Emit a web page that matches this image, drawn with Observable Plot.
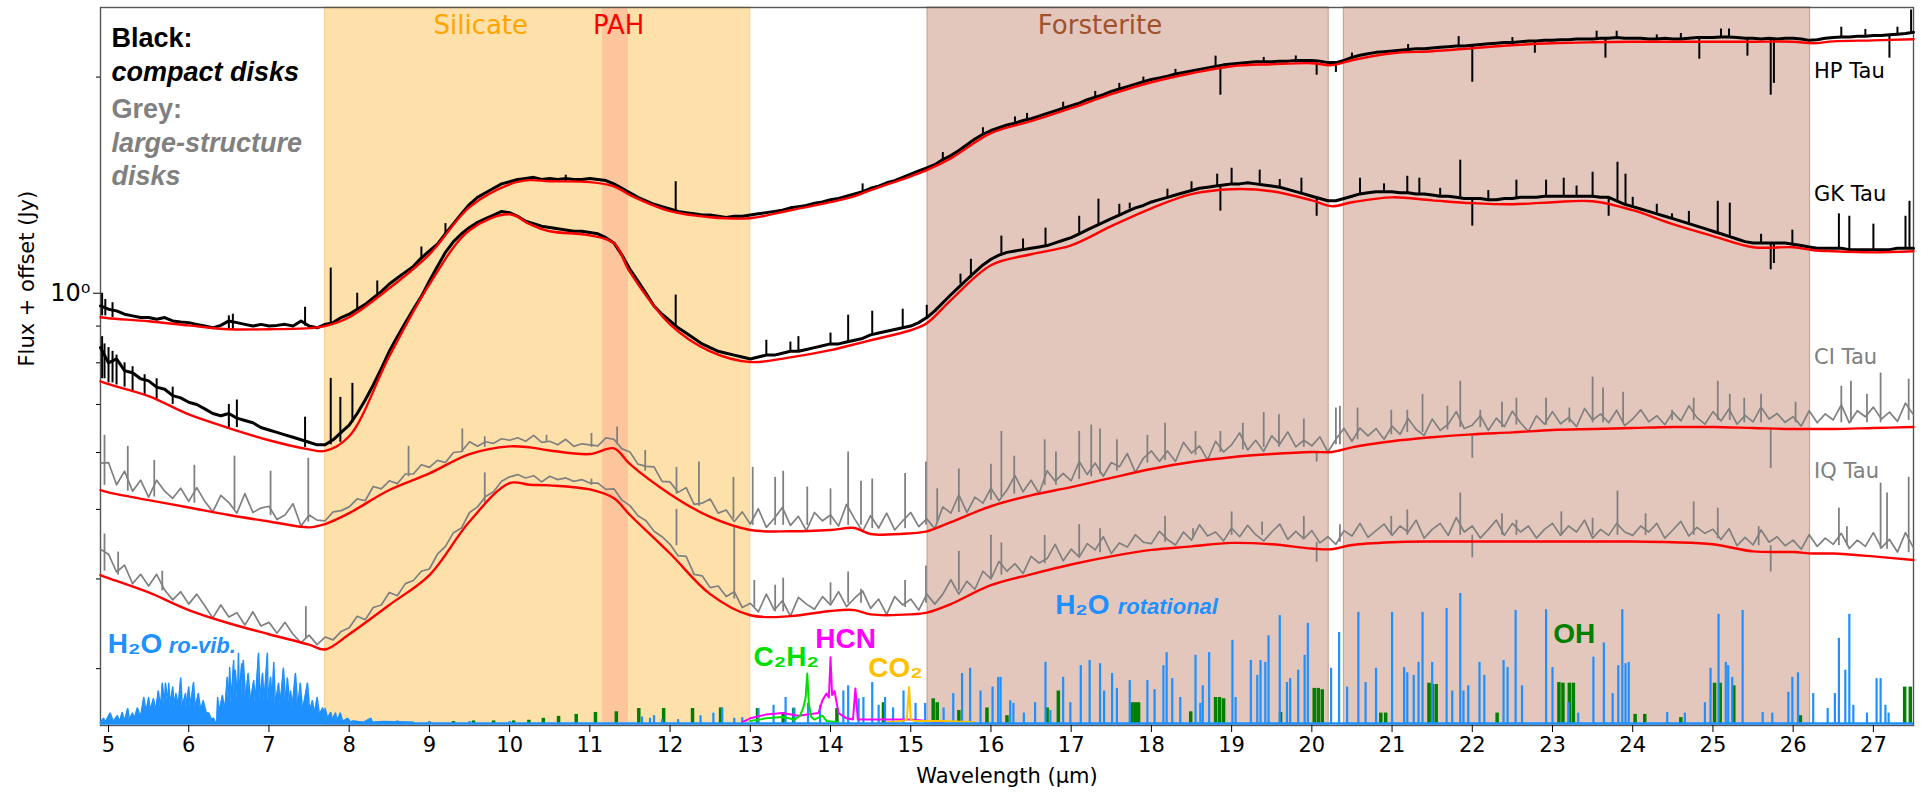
<!DOCTYPE html>
<html><head><meta charset="utf-8">
<script src="https://cdn.jsdelivr.net/npm/d3@7"></script>
<script src="https://cdn.jsdelivr.net/npm/@observablehq/plot@0.6"></script>
<style>
body{margin:0;background:#fff;}
#wrap{position:relative;width:1921px;height:795px;}
#wrap svg{position:absolute;left:0;top:0;}
</style></head><body><div id="wrap"></div>
<script>
// ---------- DATA ----------
const xTicks = [5,6,7,8,9,10,11,12,13,14,15,16,17,18,19,20,21,22,23,24,25,26,27];
const yMinorTicks = [0.3,0.4,0.5,0.6,0.7,0.8,0.9,2];
const yMajorTicks = [1];
const specStart = 4.9, specStep = 0.1;

const starNames = ["HP Tau","GK Tau","CI Tau","IQ Tau"];
const starLabelFlux = [2.036, 1.372, 0.814, 0.565];

const bandNames = ["Silicate","PAH","Forsterite","Forsterite"];
const bandFrom = [7.7, 11.16, 15.21, 20.40];
const bandTo = [13.0, 11.48, 20.21, 26.21];

// observed spectra, 4.9 .. 27.5 um every 0.1 um (Jy + offset)
const hpTau = [0.96,
 0.95,0.945,0.935,0.93,0.925,0.925,0.92,0.925,0.915,0.912,
 0.91,0.905,0.90,0.895,0.902,0.915,0.91,0.905,0.90,0.905,
 0.90,0.902,0.905,0.90,0.915,0.90,0.895,0.905,0.91,0.925,
 0.935,0.95,0.965,0.985,1.005,1.03,1.05,1.07,1.09,1.12,
 1.145,1.17,1.21,1.25,1.29,1.33,1.36,1.38,1.40,1.42,
 1.43,1.44,1.445,1.45,1.44,1.445,1.44,1.445,1.44,1.44,
 1.445,1.44,1.435,1.42,1.40,1.38,1.36,1.345,1.33,1.32,
 1.31,1.30,1.295,1.29,1.285,1.285,1.28,1.275,1.28,1.28,
 1.285,1.29,1.295,1.30,1.305,1.315,1.32,1.325,1.335,1.34,
 1.35,1.355,1.365,1.375,1.385,1.40,1.41,1.425,1.435,1.45,
 1.465,1.48,1.495,1.51,1.535,1.555,1.58,1.61,1.64,1.665,
 1.685,1.70,1.715,1.725,1.74,1.75,1.765,1.78,1.795,1.81,
 1.825,1.84,1.86,1.875,1.89,1.91,1.925,1.94,1.955,1.97,
 1.985,1.995,2.005,2.02,2.03,2.04,2.05,2.06,2.07,2.08,
 2.085,2.09,2.095,2.10,2.10,2.10,2.105,2.105,2.11,2.11,
 2.11,2.105,2.095,2.095,2.11,2.13,2.145,2.155,2.165,2.17,
 2.175,2.18,2.185,2.19,2.19,2.195,2.20,2.205,2.21,2.21,
 2.215,2.22,2.225,2.23,2.235,2.235,2.24,2.245,2.245,2.25,
 2.25,2.255,2.255,2.26,2.26,2.26,2.265,2.265,2.27,2.265,
 2.265,2.265,2.26,2.26,2.265,2.26,2.26,2.265,2.27,2.27,
 2.27,2.275,2.275,2.27,2.265,2.265,2.26,2.265,2.26,2.265,
 2.265,2.26,2.25,2.255,2.265,2.27,2.275,2.275,2.28,2.28,
 2.285,2.285,2.29,2.295,2.30,2.31];

const gkTau = [0.84,
 0.80,0.81,0.78,0.775,0.76,0.755,0.74,0.735,0.72,0.715,
 0.705,0.70,0.69,0.68,0.675,0.68,0.67,0.665,0.66,0.65,
 0.645,0.64,0.635,0.63,0.625,0.62,0.615,0.615,0.625,0.64,
 0.655,0.68,0.71,0.745,0.785,0.83,0.87,0.91,0.95,0.99,
 1.04,1.09,1.14,1.18,1.21,1.235,1.255,1.27,1.285,1.30,
 1.295,1.28,1.26,1.25,1.24,1.235,1.23,1.225,1.22,1.22,
 1.215,1.21,1.195,1.175,1.13,1.08,1.04,1.0,0.96,0.935,
 0.915,0.895,0.88,0.865,0.85,0.84,0.83,0.825,0.82,0.815,
 0.81,0.815,0.82,0.82,0.825,0.83,0.83,0.835,0.84,0.845,
 0.85,0.85,0.855,0.86,0.865,0.875,0.88,0.885,0.89,0.895,
 0.90,0.91,0.925,0.945,0.97,0.995,1.02,1.045,1.07,1.095,
 1.115,1.13,1.14,1.145,1.15,1.155,1.16,1.165,1.175,1.185,
 1.195,1.21,1.225,1.24,1.255,1.27,1.285,1.30,1.315,1.325,
 1.34,1.35,1.36,1.37,1.38,1.39,1.40,1.405,1.41,1.415,
 1.42,1.42,1.425,1.42,1.415,1.41,1.405,1.395,1.385,1.375,
 1.365,1.355,1.345,1.345,1.355,1.365,1.375,1.38,1.385,1.385,
 1.385,1.38,1.38,1.375,1.375,1.37,1.365,1.365,1.36,1.355,
 1.355,1.355,1.35,1.35,1.355,1.355,1.36,1.36,1.36,1.365,
 1.365,1.365,1.365,1.365,1.365,1.365,1.36,1.36,1.345,1.33,
 1.32,1.31,1.30,1.29,1.28,1.27,1.26,1.25,1.24,1.23,
 1.22,1.21,1.20,1.19,1.18,1.175,1.175,1.175,1.175,1.175,
 1.17,1.165,1.16,1.155,1.155,1.155,1.155,1.15,1.15,1.15,
 1.15,1.15,1.15,1.155,1.155,1.155];

const ciTau = [0.58,
 0.581,0.541,0.565,0.530,0.549,0.520,0.549,0.530,0.518,0.535,
 0.513,0.536,0.513,0.496,0.523,0.511,0.494,0.526,0.495,0.502,
 0.505,0.484,0.491,0.509,0.474,0.491,0.483,0.482,0.496,0.498,
 0.504,0.517,0.514,0.538,0.534,0.548,0.543,0.560,0.560,0.577,
 0.572,0.585,0.581,0.600,0.602,0.621,0.612,0.621,0.618,0.627,
 0.624,0.629,0.622,0.634,0.620,0.622,0.615,0.626,0.612,0.617,
 0.615,0.613,0.629,0.626,0.607,0.601,0.578,0.574,0.573,0.547,
 0.546,0.528,0.536,0.508,0.510,0.517,0.494,0.499,0.481,0.496,
 0.477,0.501,0.472,0.486,0.503,0.475,0.489,0.467,0.495,0.482,
 0.491,0.474,0.508,0.485,0.466,0.490,0.471,0.494,0.468,0.482,
 0.495,0.473,0.485,0.470,0.504,0.494,0.524,0.495,0.520,0.510,
 0.535,0.514,0.532,0.557,0.529,0.549,0.526,0.566,0.547,0.561,
 0.548,0.583,0.559,0.580,0.556,0.581,0.573,0.598,0.563,0.589,
 0.603,0.583,0.603,0.583,0.620,0.599,0.613,0.586,0.622,0.601,
 0.615,0.639,0.605,0.624,0.602,0.633,0.616,0.641,0.611,0.624,
 0.613,0.631,0.601,0.626,0.648,0.622,0.649,0.633,0.648,0.626,
 0.653,0.636,0.669,0.646,0.634,0.668,0.644,0.657,0.684,0.648,
 0.655,0.675,0.644,0.670,0.652,0.685,0.660,0.642,0.675,0.657,
 0.684,0.658,0.671,0.652,0.691,0.666,0.679,0.660,0.687,0.654,
 0.668,0.688,0.662,0.675,0.656,0.683,0.664,0.697,0.671,0.657,
 0.684,0.664,0.690,0.657,0.676,0.662,0.694,0.668,0.680,0.661,
 0.673,0.653,0.686,0.660,0.679,0.666,0.699,0.660,0.686,0.673,
 0.694,0.668,0.683,0.663,0.703,0.677];

const iqTau = [0.44,
 0.433,0.409,0.418,0.394,0.406,0.391,0.406,0.386,0.374,0.384,
 0.369,0.381,0.367,0.353,0.368,0.354,0.359,0.345,0.360,0.344,
 0.348,0.336,0.348,0.335,0.326,0.334,0.324,0.332,0.329,0.338,
 0.342,0.355,0.351,0.365,0.368,0.383,0.379,0.394,0.398,0.410,
 0.413,0.433,0.444,0.464,0.471,0.495,0.504,0.521,0.529,0.547,
 0.555,0.559,0.553,0.557,0.546,0.556,0.550,0.553,0.547,0.550,
 0.544,0.544,0.533,0.534,0.515,0.506,0.490,0.482,0.466,0.458,
 0.447,0.431,0.430,0.406,0.404,0.389,0.391,0.378,0.384,0.365,
 0.370,0.360,0.381,0.362,0.373,0.355,0.377,0.369,0.363,0.378,
 0.368,0.384,0.366,0.376,0.385,0.364,0.375,0.357,0.378,0.368,
 0.375,0.362,0.381,0.369,0.381,0.399,0.381,0.397,0.387,0.410,
 0.400,0.423,0.410,0.420,0.407,0.430,0.421,0.427,0.447,0.424,
 0.440,0.429,0.448,0.439,0.458,0.434,0.449,0.443,0.461,0.450,
 0.448,0.466,0.454,0.446,0.465,0.453,0.476,0.459,0.465,0.452,
 0.471,0.458,0.475,0.461,0.452,0.465,0.477,0.454,0.466,0.455,
 0.467,0.449,0.458,0.447,0.467,0.459,0.478,0.457,0.467,0.477,
 0.460,0.474,0.465,0.483,0.456,0.469,0.478,0.460,0.487,0.465,
 0.474,0.456,0.469,0.483,0.460,0.478,0.465,0.474,0.456,0.469,
 0.478,0.460,0.474,0.465,0.483,0.456,0.469,0.460,0.478,0.465,
 0.460,0.474,0.465,0.478,0.456,0.468,0.481,0.459,0.472,0.463,
 0.469,0.454,0.470,0.445,0.457,0.446,0.468,0.450,0.458,0.445,
 0.453,0.440,0.461,0.444,0.456,0.447,0.463,0.441,0.453,0.444,
 0.464,0.442,0.454,0.436,0.464,0.442];

// continuum fits (red)
const contWl = [4.9,5.0,5.5,6.0,6.5,7.0,7.5,7.7,8.0,8.5,9.0,9.5,10.0,10.25,10.5,11.0,11.3,11.5,12.0,12.5,
 13.0,13.5,14.0,14.3,14.5,15.0,15.2,15.5,16.0,16.5,17.0,17.5,18.0,18.5,19.0,19.5,20.0,20.25,20.5,21.0,
 21.5,22.0,22.5,23.0,23.5,24.0,24.5,25.0,25.5,26.0,26.25,26.5,27.0,27.5];
const hpCont = [0.926,0.923,0.914,0.902,0.891,0.891,0.894,0.900,0.926,1.016,1.133,1.318,1.418,1.437,1.432,1.428,1.409,1.37,1.301,1.276,
 1.272,1.305,1.339,1.365,1.392,1.455,1.484,1.541,1.671,1.736,1.810,1.893,1.967,2.025,2.071,2.084,2.091,2.078,2.111,2.159,
 2.173,2.194,2.215,2.229,2.236,2.240,2.240,2.240,2.240,2.240,2.229,2.243,2.250,2.258];
const gkCont = [0.754,0.747,0.719,0.678,0.649,0.624,0.606,0.603,0.632,0.817,1.029,1.224,1.288,1.248,1.220,1.204,1.174,1.070,0.905,0.830,
 0.802,0.814,0.833,0.849,0.860,0.888,0.908,0.978,1.094,1.133,1.166,1.240,1.313,1.374,1.396,1.387,1.347,1.322,1.339,1.360,
 1.347,1.335,1.330,1.339,1.343,1.305,1.248,1.201,1.159,1.159,1.148,1.144,1.140,1.144];
const ciCont = [0.532,0.528,0.515,0.503,0.491,0.481,0.472,0.477,0.494,0.532,0.561,0.597,0.612,0.610,0.604,0.597,0.608,0.578,0.525,0.488,
 0.468,0.466,0.468,0.471,0.462,0.463,0.466,0.480,0.505,0.523,0.537,0.553,0.569,0.582,0.591,0.597,0.601,0.601,0.610,0.622,
 0.630,0.636,0.640,0.645,0.647,0.649,0.651,0.651,0.649,0.647,0.647,0.647,0.649,0.651];
const iqCont = [0.405,0.401,0.383,0.362,0.347,0.335,0.324,0.319,0.335,0.368,0.405,0.481,0.544,0.541,0.540,0.533,0.518,0.491,0.434,0.381,
 0.356,0.355,0.361,0.362,0.357,0.357,0.359,0.369,0.392,0.406,0.419,0.430,0.439,0.444,0.449,0.447,0.441,0.440,0.446,0.450,
 0.451,0.451,0.451,0.451,0.451,0.451,0.450,0.447,0.437,0.436,0.434,0.434,0.430,0.425];

// narrow features [wavelength, low, high]
const hpSpikes = [[4.92,0.93,1.0],[4.96,0.93,0.98],[5.05,0.925,0.97],[6.5,0.89,0.93],[6.55,0.89,0.935],[7.45,0.90,0.956],[7.77,0.905,1.084],
 [8.1,0.95,1.0],[8.35,0.985,1.04],[8.9,1.12,1.16],[9.2,1.21,1.25],[10.7,1.43,1.46],[12.07,1.30,1.43],[14.4,1.385,1.42],[15.4,1.535,1.57],
 [15.9,1.665,1.70],[16.3,1.725,1.76],[16.45,1.74,1.78],[16.9,1.81,1.845],[17.3,1.875,1.91],[17.6,1.925,1.96],[17.9,1.97,2.0],[18.3,2.02,2.05],
 [18.8,2.07,2.139],[18.86,1.887,2.07],[19.4,2.10,2.13],[19.8,2.11,2.14],[20.06,2.012,2.11],[20.3,2.03,2.095],[20.5,2.13,2.16],[21.2,2.185,2.22],
 [21.83,2.21,2.277],[22.0,1.967,2.215],[22.5,2.235,2.27],[22.78,2.159,2.245],[23.55,2.26,2.317],[23.66,2.125,2.265],[23.8,2.27,2.317],
 [24.3,2.26,2.29],[24.6,2.26,2.30],[24.83,2.118,2.27],[25.1,2.275,2.333],[25.2,2.275,2.333],[25.43,2.139,2.27],[25.72,1.887,2.26],
 [25.76,1.96,2.26],[26.6,2.275,2.347],[26.9,2.28,2.33],[27.2,2.125,2.29],[27.3,2.295,2.347],[27.47,2.30,2.48]];
const gkSpikes = [[4.92,0.76,0.87],[4.95,0.76,0.85],[5.0,0.75,0.84],[5.05,0.75,0.83],[5.1,0.745,0.82],[5.2,0.74,0.80],[5.3,0.73,0.79],
 [5.45,0.72,0.77],[5.6,0.71,0.76],[5.8,0.70,0.74],[6.5,0.65,0.70],[6.6,0.65,0.71],[7.45,0.61,0.672],[7.77,0.615,0.761],[7.89,0.62,0.716],
 [8.04,0.66,0.749],[12.07,0.90,0.994],[13.2,0.82,0.86],[13.5,0.83,0.855],[13.6,0.83,0.87],[14.0,0.85,0.88],[14.22,0.855,0.932],
 [14.52,0.875,0.944],[14.9,0.895,0.95],[15.2,0.925,0.962],[15.62,1.03,1.063],[15.75,1.05,1.115],[16.13,1.13,1.201],[16.4,1.15,1.19],
 [16.68,1.165,1.232],[17.1,1.21,1.28],[17.34,1.245,1.352],[17.6,1.285,1.33],[17.73,1.31,1.335],[18.2,1.36,1.396],[18.5,1.39,1.43],
 [18.82,1.41,1.465],[19.0,1.42,1.493],[19.35,1.42,1.484],[19.6,1.405,1.44],[19.87,1.375,1.446],[20.6,1.375,1.446],[20.9,1.385,1.42],
 [21.19,1.38,1.455],[21.34,1.375,1.446],[21.6,1.365,1.40],[21.85,1.36,1.532],[22.2,1.35,1.39],[22.55,1.355,1.437],[22.92,1.365,1.437],
 [23.14,1.365,1.446],[23.3,1.365,1.41],[23.5,1.365,1.474],[23.81,1.345,1.522],[23.91,1.33,1.465],[24.0,1.32,1.36],[24.3,1.29,1.33],
 [24.49,1.27,1.29],[24.7,1.25,1.30],[25.06,1.215,1.343],[25.21,1.20,1.335],[25.6,1.175,1.208],[25.99,1.17,1.224],
 [26.57,1.155,1.29],[26.7,1.15,1.28],[27.0,1.15,1.248],[27.4,1.155,1.28],[27.45,1.155,1.343],
 [18.86,1.301,1.41],[20.06,1.28,1.36],[22.0,1.24,1.355],[23.7,1.28,1.36],[25.72,1.078,1.175],[25.76,1.10,1.175]];
const ciSpikes = [[4.95,0.54,0.634],[5.24,0.53,0.612],[5.57,0.52,0.585],[6.07,0.51,0.576],[6.57,0.50,0.593],[7.02,0.49,0.565],[7.49,0.48,0.589],
 [8.74,0.555,0.612],[9.41,0.60,0.647],[9.69,0.61,0.631],[10.46,0.62,0.634],[11.02,0.61,0.638],[11.34,0.615,0.651],[11.69,0.565,0.604],
 [12.08,0.525,0.572],[12.36,0.505,0.582],[12.79,0.485,0.554],[13.03,0.475,0.572],[13.31,0.475,0.554],[13.41,0.475,0.565],[13.71,0.475,0.537],
 [14.0,0.475,0.534],[14.22,0.475,0.601],[14.38,0.475,0.547],[14.52,0.47,0.551],[14.93,0.47,0.561],[15.19,0.475,0.582],[15.33,0.48,0.534],
 [15.6,0.495,0.569],[16.0,0.515,0.578],[16.13,0.52,0.642],[16.29,0.525,0.593],[16.67,0.54,0.625],[16.81,0.54,0.601],[17.1,0.55,0.642],
 [17.25,0.555,0.655],[17.36,0.56,0.647],[17.57,0.565,0.625],[17.95,0.58,0.634],[18.17,0.585,0.659],[18.55,0.595,0.642],[18.86,0.60,0.642],
 [19.14,0.605,0.659],[19.4,0.61,0.682],[19.59,0.61,0.677],[19.9,0.61,0.668],[20.3,0.615,0.692],[20.35,0.615,0.696],[20.57,0.625,0.692],
 [20.99,0.635,0.687],[21.19,0.64,0.687],[21.38,0.64,0.723],[21.69,0.645,0.696],[21.85,0.65,0.754],[22.1,0.65,0.687],[22.37,0.65,0.705],
 [22.55,0.655,0.714],[22.92,0.655,0.714],[23.21,0.66,0.692],[23.5,0.66,0.764],[23.63,0.66,0.738],[23.88,0.66,0.728],[24.49,0.665,0.687],
 [24.76,0.665,0.714],[25.06,0.665,0.754],[25.21,0.665,0.723],[25.39,0.66,0.714],[25.6,0.66,0.723],[26.03,0.66,0.705],[26.6,0.66,0.742],
 [26.72,0.66,0.754],[26.92,0.66,0.723],[27.09,0.66,0.774],[27.44,0.665,0.759],
 [25.72,0.57,0.649],[22.0,0.589,0.636],[20.06,0.582,0.60]];
const iqSpikes = [[4.95,0.41,0.462],[5.12,0.405,0.436],[5.67,0.385,0.41],[7.46,0.33,0.366],[9.69,0.51,0.562],[11.02,0.54,0.551],
 [12.08,0.445,0.50],[12.8,0.375,0.472],[13.05,0.365,0.398],[13.31,0.36,0.392],[13.41,0.36,0.401],[14.0,0.37,0.395],[14.22,0.37,0.409],
 [14.38,0.37,0.387],[14.93,0.365,0.398],[15.19,0.37,0.417],[15.6,0.385,0.437],[16.0,0.40,0.46],[16.13,0.405,0.449],[16.67,0.42,0.46],
 [17.1,0.43,0.476],[17.36,0.435,0.47],[18.17,0.45,0.489],[18.52,0.455,0.47],[19.0,0.46,0.496],[19.38,0.46,0.48],[19.9,0.455,0.489],
 [20.35,0.45,0.476],[20.99,0.46,0.489],[21.19,0.46,0.499],[21.85,0.46,0.527],[22.37,0.46,0.493],[22.55,0.46,0.483],[23.11,0.46,0.496],
 [23.5,0.46,0.486],[23.81,0.46,0.53],[24.16,0.46,0.493],[24.76,0.46,0.512],[25.06,0.455,0.502],[25.57,0.445,0.473],[26.57,0.445,0.502],
 [26.67,0.445,0.473],[27.09,0.44,0.544],[27.17,0.44,0.527],[27.44,0.435,0.554],
 [25.72,0.409,0.445],[22.0,0.428,0.46],[20.06,0.422,0.45]];

// molecular model spectra (relative line intensity, 0..1)
const roVib = [[4.90,0.01],[4.94,0.04],[4.96,0.01],[5.02,0.08],[5.06,0.015],[5.11,0.06],[5.14,0.015],[5.17,0.085],[5.20,0.02],[5.24,0.115],
 [5.26,0.03],[5.30,0.08],[5.32,0.035],[5.36,0.12],[5.40,0.05],[5.44,0.2],[5.47,0.09],[5.50,0.2],[5.52,0.1],[5.56,0.19],[5.59,0.1],
 [5.62,0.25],[5.65,0.12],[5.67,0.31],[5.70,0.14],[5.71,0.31],[5.74,0.15],[5.75,0.31],[5.77,0.14],[5.80,0.28],[5.82,0.13],[5.84,0.23],
 [5.87,0.14],[5.90,0.35],[5.92,0.13],[5.96,0.23],[5.97,0.12],[6.00,0.28],[6.02,0.13],[6.06,0.315],[6.08,0.12],[6.12,0.23],[6.15,0.1],
 [6.18,0.175],[6.22,0.08],[6.25,0.08],[6.28,0.035],[6.31,0.04],[6.33,0.01],[6.35,0.01],[6.36,0.2],[6.38,0.09],[6.42,0.215],[6.45,0.1],
 [6.48,0.355],[6.50,0.15],[6.51,0.43],[6.53,0.16],[6.56,0.485],[6.57,0.2],[6.58,0.41],[6.61,0.17],[6.62,0.54],[6.63,0.2],[6.66,0.46],
 [6.67,0.19],[6.68,0.485],[6.71,0.18],[6.74,0.385],[6.77,0.17],[6.81,0.33],[6.83,0.16],[6.87,0.54],[6.89,0.18],[6.92,0.385],[6.94,0.17],
 [6.98,0.54],[6.99,0.17],[7.02,0.355],[7.04,0.17],[7.06,0.47],[7.08,0.15],[7.12,0.31],[7.14,0.14],[7.18,0.425],[7.21,0.15],[7.23,0.35],
 [7.26,0.13],[7.27,0.25],[7.29,0.12],[7.33,0.385],[7.36,0.12],[7.39,0.31],[7.42,0.1],[7.48,0.31],[7.51,0.09],[7.54,0.175],[7.57,0.08],
 [7.60,0.2],[7.63,0.07],[7.67,0.12],[7.69,0.06],[7.70,0.115],[7.73,0.04],[7.77,0.085],[7.79,0.03],[7.83,0.08],[7.85,0.02],[7.89,0.08],
 [7.92,0.015],[7.98,0.04],[8.02,0.01],[8.05,0.02],[8.18,0.01],[8.27,0.04],[8.29,0.01],[8.43,0.015],[8.80,0.01]];
const h2oRot = [[8.6,0.02],[9.0,0.015],[9.5,0.015],[10.0,0.015],[11.65,0.05],[11.75,0.04],[11.8,0.06],[11.9,0.03],[12.1,0.03],
 [12.38,0.06],[12.54,0.08],[12.65,0.12],[12.8,0.04],[12.9,0.045],[13.1,0.115],[13.29,0.14],[13.44,0.2],[13.54,0.12],[13.72,0.155],
 [13.87,0.14],[14.16,0.25],[14.22,0.29],[14.35,0.19],[14.41,0.2],[14.52,0.315],[14.6,0.14],[14.68,0.2],[14.78,0.12],[14.91,0.25],
 [15.06,0.155],[15.18,0.155],[15.41,0.12],[15.53,0.23],[15.64,0.385],[15.74,0.425],[15.87,0.25],[16.02,0.28],[16.09,0.355],[16.12,0.355],
 [16.24,0.175],[16.28,0.155],[16.41,0.08],[16.55,0.16],[16.68,0.47],[16.74,0.10],[16.9,0.355],[16.99,0.16],[17.12,0.445],[17.23,0.485],
 [17.36,0.46],[17.41,0.25],[17.51,0.385],[17.57,0.27],[17.73,0.33],[17.95,0.33],[18.04,0.26],[18.15,0.445],[18.19,0.545],[18.26,0.345],
 [18.36,0.2],[18.55,0.525],[18.61,0.155],[18.64,0.29],[18.72,0.545],[19.01,0.64],[19.05,0.2],[19.24,0.485],[19.32,0.37],[19.36,0.485],
 [19.42,0.47],[19.46,0.675],[19.6,0.83],[19.69,0.315],[19.73,0.345],[19.83,0.41],[19.91,0.525],[19.95,0.77],[20.24,0.425],[20.34,0.70],
 [20.44,0.28],[20.58,0.855],[20.67,0.315],[20.8,0.425],[21.0,0.855],[21.15,0.43],[21.19,0.39],[21.27,0.37],[21.33,0.47],[21.38,0.855],
 [21.5,0.47],[21.68,0.885],[21.75,0.25],[21.85,1.0],[21.89,0.25],[21.95,0.29],[22.09,0.47],[22.15,0.37],[22.39,0.485],[22.44,0.43],
 [22.54,0.87],[22.62,0.29],[22.92,0.875],[23.0,0.43],[23.2,0.16],[23.32,0.08],[23.51,0.51],[23.64,0.62],[23.75,0.23],[23.82,0.445],
 [23.87,0.875],[23.91,0.46],[23.95,0.47],[24.43,0.085],[24.65,0.08],[24.9,0.16],[24.97,0.425],[25.07,0.84],[25.16,0.47],[25.19,0.445],
 [25.24,0.355],[25.37,0.87],[25.62,0.085],[25.74,0.08],[25.94,0.24],[25.99,0.355],[26.06,0.39],[26.25,0.23],[26.43,0.115],[26.52,0.23],
 [26.57,0.655],[26.65,0.41],[26.7,0.84],[26.75,0.14],[26.92,0.08],[27.04,0.345],[27.09,0.345],[27.15,0.14],[27.19,0.08]];
const ohLines = [[9.0,0.01],[9.3,0.015],[9.55,0.02],[9.8,0.02],[10.05,0.02],[10.24,0.025],[10.42,0.04],[10.61,0.055],[10.83,0.07],
 [11.07,0.085],[11.33,0.09],[11.61,0.115],[11.92,0.115],[12.28,0.115],[12.63,0.12],[13.09,0.115],[13.41,0.085],[13.54,0.115],
 [14.08,0.115],[14.66,0.16],[15.28,0.19],[15.33,0.16],[15.6,0.1],[15.95,0.12],[16.2,0.06],[16.7,0.12],[16.84,0.25],[17.76,0.16],
 [17.8,0.16],[17.84,0.16],[18.49,0.09],[18.8,0.2],[18.85,0.2],[18.9,0.19],[19.61,0.085],[20.03,0.27],[20.08,0.27],[20.13,0.26],
 [20.86,0.08],[20.92,0.08],[21.46,0.31],[21.5,0.3],[21.55,0.3],[22.31,0.08],[23.08,0.315],[23.13,0.31],[23.21,0.31],[23.26,0.31],
 [24.03,0.07],[24.15,0.07],[24.6,0.045],[25.02,0.31],[25.09,0.31],[25.26,0.29],[26.09,0.06],[27.39,0.28],[27.46,0.28]];
const c2h2 = [[13.0,0.02],[13.2,0.04],[13.4,0.05],[13.55,0.03],[13.62,0.06],[13.66,0.12],[13.69,0.2],[13.71,0.385],[13.73,0.15],
 [13.76,0.05],[13.8,0.03],[13.9,0.06],[13.95,0.02],[14.1,0.01]];
const hcn = [[12.9,0.01],[13.0,0.04],[13.2,0.07],[13.4,0.08],[13.6,0.06],[13.85,0.08],[13.9,0.18],[13.95,0.23],[13.98,0.2],
 [14.0,0.51],[14.02,0.22],[14.05,0.25],[14.1,0.08],[14.2,0.04],[14.28,0.03],[14.31,0.27],[14.34,0.03],[14.6,0.03],[15.0,0.03],[15.2,0.02],[15.4,0.01]];
const co2 = [[14.7,0.01],[14.9,0.02],[14.95,0.03],[14.98,0.28],[15.0,0.03],[15.05,0.02],[15.4,0.02],[15.8,0.01]];

// ---------- BUILD ----------
const W = 1921, H = 795, ML = 100, MR = 8, MT = 7, MB = 70;
const xDomain = [4.9, 27.5], yDomain = [0.25, 2.5];
const specWl = hpTau.map((_, i) => Math.round((specStart + specStep * i) * 100) / 100);
const rows = vals => vals.map((f, i) => ({wl: specWl[i], f}));
const cont = vals => vals.map((f, i) => ({wl: contWl[i], f}));
const bands = bandNames.map((name, i) => ({name, from: bandFrom[i], to: bandTo[i]}));
const spikeOpts = (stroke, w) => ({x: d => d[0], y1: d => d[1], y2: d => d[2], stroke, strokeWidth: w});
const BLUE = "#1e90ff";
const SANS = "'Liberation Sans', Arial, sans-serif";

const main = Plot.plot({
  width: W, height: H, marginLeft: ML, marginRight: MR, marginTop: MT, marginBottom: MB,
  x: {domain: xDomain, label: null},
  y: {type: "log", domain: yDomain, label: null},
  style: {fontFamily: "'DejaVu Sans', sans-serif", fontSize: "21px", background: "transparent", color: "#000"},
  marks: [
    Plot.rect(bands, {filter: d => d.name === "Silicate", x1: "from", x2: "to", y1: yDomain[0], y2: yDomain[1], fill: "#fee0aa", stroke: "#f7cf90", strokeWidth: 1}),
    Plot.rect(bands, {filter: d => d.name === "PAH", x1: "from", x2: "to", y1: yDomain[0], y2: yDomain[1], fill: "#fdc59c"}),
    Plot.rect(bands, {filter: d => d.name === "Forsterite", x1: "from", x2: "to", y1: yDomain[0], y2: yDomain[1], fill: "#e3c7bc", stroke: "#c9a595", strokeWidth: 1.2}),
    Plot.frame({stroke: "#555", strokeWidth: 1.4}),
    Plot.axisX({ticks: xTicks, tickSize: 7, tickPadding: 5, label: null, fontSize: 21}),
    Plot.axisY({ticks: yMajorTicks, tickSize: 7, tickPadding: 3, tickFormat: () => "10\u2070", label: null, fontSize: 24}),
    Plot.axisY({ticks: yMinorTicks, tickSize: 4, tickFormat: () => "", label: null}),
    Plot.text(["Wavelength (\u00b5m)"], {frameAnchor: "bottom", dy: 51, lineAnchor: "middle", fontSize: 21}),
    Plot.text(["Flux + offset (Jy)"], {frameAnchor: "left", dx: -73, rotate: -90, lineAnchor: "middle", fontSize: 21}),
    // grey spectra
    Plot.line(rows(ciTau), {x: "wl", y: "f", stroke: "#808080", strokeWidth: 1.7}),
    Plot.ruleX(ciSpikes, spikeOpts("#808080", 1.8)),
    Plot.line(rows(iqTau), {x: "wl", y: "f", stroke: "#808080", strokeWidth: 1.7}),
    Plot.ruleX(iqSpikes, spikeOpts("#808080", 1.8)),
    // black spectra
    Plot.line(rows(hpTau), {x: "wl", y: "f", stroke: "#000", strokeWidth: 3}),
    Plot.ruleX(hpSpikes, spikeOpts("#000", 2)),
    Plot.line(rows(gkTau), {x: "wl", y: "f", stroke: "#000", strokeWidth: 3}),
    Plot.ruleX(gkSpikes, spikeOpts("#000", 2)),
    // continuum fits
    Plot.line(cont(hpCont), {x: "wl", y: "f", stroke: "#ff0000", strokeWidth: 2.4, curve: "catmull-rom"}),
    Plot.line(cont(gkCont), {x: "wl", y: "f", stroke: "#ff0000", strokeWidth: 2.4, curve: "catmull-rom"}),
    Plot.line(cont(ciCont), {x: "wl", y: "f", stroke: "#ff0000", strokeWidth: 2.4, curve: "catmull-rom"}),
    Plot.line(cont(iqCont), {x: "wl", y: "f", stroke: "#ff0000", strokeWidth: 2.4, curve: "catmull-rom"}),
    // band labels
    Plot.text(["Silicate"], {x: 9.64, frameAnchor: "top", dy: 18, lineAnchor: "middle", fill: "#ffa500", fontSize: 26}),
    Plot.text(["PAH"], {x: 11.36, frameAnchor: "top", dy: 18, lineAnchor: "middle", fill: "#ff0000", fontSize: 26}),
    Plot.text(["Forsterite"], {x: 17.36, frameAnchor: "top", dy: 18, lineAnchor: "middle", fill: "#a0522d", fontSize: 26}),
    // star labels
    Plot.text(starNames, {x: 26.26, y: (d, i) => starLabelFlux[i], textAnchor: "start", lineAnchor: "middle", fontSize: 21,
      fill: (d, i) => i < 2 ? "#000" : "#808080"}),
    // legend
    Plot.text(["Black:"], {frameAnchor: "top-left", dx: 11, dy: 39, lineAnchor: "bottom", textAnchor: "start", fontFamily: SANS, fontWeight: "bold", fontSize: 27, fill: "#000"}),
    Plot.text(["compact disks"], {frameAnchor: "top-left", dx: 11, dy: 73, lineAnchor: "bottom", textAnchor: "start", fontFamily: SANS, fontWeight: "bold", fontStyle: "italic", fontSize: 27, fill: "#000"}),
    Plot.text(["Grey:"], {frameAnchor: "top-left", dx: 11, dy: 110, lineAnchor: "bottom", textAnchor: "start", fontFamily: SANS, fontWeight: "bold", fontSize: 27, fill: "#808080"}),
    Plot.text(["large-structure"], {frameAnchor: "top-left", dx: 11, dy: 144, lineAnchor: "bottom", textAnchor: "start", fontFamily: SANS, fontWeight: "bold", fontStyle: "italic", fontSize: 27, fill: "#808080"}),
    Plot.text(["disks"], {frameAnchor: "top-left", dx: 11, dy: 177, lineAnchor: "bottom", textAnchor: "start", fontFamily: SANS, fontWeight: "bold", fontStyle: "italic", fontSize: 27, fill: "#808080"})
  ]
});

const molText = (t, x, y, fill, size, italic) => Plot.text([t], {x, y, fill, fontSize: size, fontFamily: SANS, fontWeight: "bold",
  fontStyle: italic ? "italic" : "normal", textAnchor: "start", lineAnchor: "bottom"});

const models = Plot.plot({
  width: W, height: H, marginLeft: ML, marginRight: MR, marginTop: MT, marginBottom: MB,
  x: {domain: xDomain, axis: null},
  y: {type: "linear", domain: [0, 1], range: [723, 593], axis: null},
  style: {background: "transparent"},
  marks: [
    Plot.ruleX(ohLines, {x: d => d[0], y1: 0, y2: d => d[1], stroke: "#008000", strokeWidth: 3.5}),
    Plot.areaY(roVib, {x: d => d[0], y1: 0, y2: d => d[1], fill: BLUE}),
    Plot.line(roVib, {x: d => d[0], y: d => d[1], stroke: BLUE, strokeWidth: 1.5}),
    Plot.ruleX(h2oRot, {x: d => d[0], y1: 0, y2: d => d[1], stroke: BLUE, strokeWidth: 2.2}),
    Plot.line(hcn, {x: d => d[0], y: d => d[1], stroke: "#ff00ff", strokeWidth: 2}),
    Plot.line(c2h2, {x: d => d[0], y: d => d[1], stroke: "#00e000", strokeWidth: 2}),
    Plot.line(co2, {x: d => d[0], y: d => d[1], stroke: "#ffc000", strokeWidth: 2}),
    Plot.ruleY([0], {stroke: BLUE, strokeWidth: 2.5}),
    molText("H\u2082O", 4.99, 0.546, BLUE, 28, false),
    molText("ro-vib.", 5.75, 0.546, BLUE, 22, true),
    molText("H\u2082O", 16.80, 0.846, BLUE, 28, false),
    molText("rotational", 17.58, 0.846, BLUE, 22, true),
    molText("C\u2082H\u2082", 13.04, 0.446, "#00e000", 28, false),
    molText("HCN", 13.81, 0.577, "#ff00ff", 28, false),
    molText("CO\u2082", 14.47, 0.354, "#ffc000", 28, false),
    molText("OH", 23.01, 0.623, "#008000", 28, false)
  ]
});

const wrap = document.getElementById("wrap");
wrap.appendChild(main);
wrap.appendChild(models);
</script></body></html>
